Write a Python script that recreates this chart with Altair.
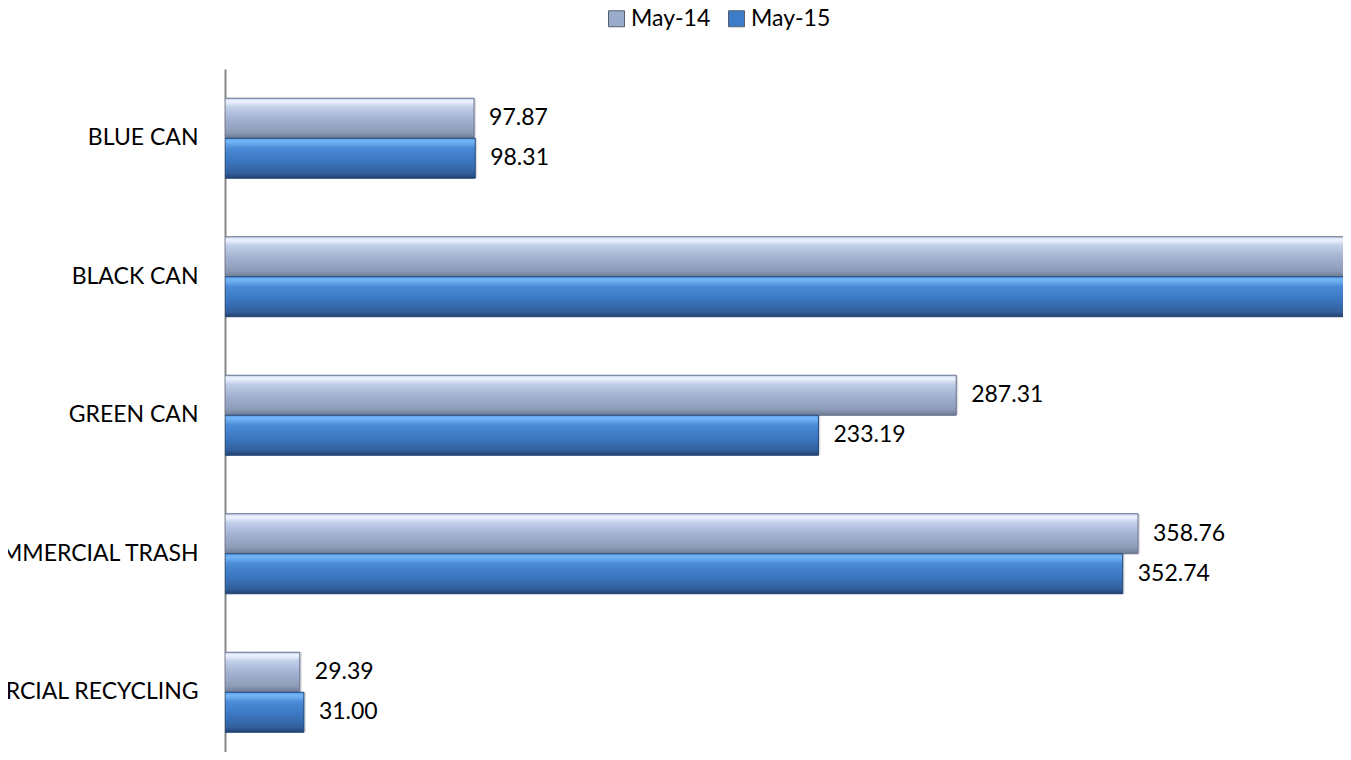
import altair as alt
import pandas as pd

categories = ["BLUE CAN", "BLACK CAN", "GREEN CAN", "COMMERCIAL TRASH", "COMMERCIAL RECYCLING"]
series = ["May-14", "May-15"]
may14 = [97.87, 1250.00, 287.31, 358.76, 29.39]   # BLACK CAN runs off the chart; value estimated
may15 = [98.31, 1230.00, 233.19, 352.74, 31.00]

rows = []
for c, a, b in zip(categories, may14, may15):
    rows.append({"category": c, "series": series[0], "value": a})
    rows.append({"category": c, "series": series[1], "value": b})
df = pd.DataFrame(rows)

FONT = "Lato"
FS = 23

grad14 = alt.Gradient(
    gradient="linear", x1=0, x2=0, y1=0, y2=1,
    stops=[
        alt.GradientStop(color="#c9d6ee", offset=0),
        alt.GradientStop(color="#eef4ff", offset=0.08),
        alt.GradientStop(color="#c2cfe9", offset=0.22),
        alt.GradientStop(color="#a3b3d2", offset=0.5),
        alt.GradientStop(color="#8d9bb8", offset=0.85),
        alt.GradientStop(color="#6e7a92", offset=1),
    ],
)
grad15 = alt.Gradient(
    gradient="linear", x1=0, x2=0, y1=0, y2=1,
    stops=[
        alt.GradientStop(color="#5d9fe8", offset=0),
        alt.GradientStop(color="#74b6f7", offset=0.08),
        alt.GradientStop(color="#4a8ad6", offset=0.25),
        alt.GradientStop(color="#3c78c2", offset=0.55),
        alt.GradientStop(color="#325f9c", offset=0.88),
        alt.GradientStop(color="#243f6a", offset=1),
    ],
)

y_enc = alt.Y(
    "category:N",
    sort=categories,
    scale=alt.Scale(domain=categories, range=[0, 692.5], paddingInner=0.4224, paddingOuter=0.211),
    axis=alt.Axis(
        title=None, ticks=False, labelPadding=27, labelFont=FONT, labelFontSize=FS,
        labelColor="#000000", labelLimit=0, domainColor="#868686", domainWidth=2,
    ),
)
yoff = alt.YOffset("series:N", scale=alt.Scale(domain=series, paddingInner=0, paddingOuter=0))
x_enc = alt.X("value:Q", scale=alt.Scale(domain=[0, 439.3], nice=False, zero=True), axis=None)

base = alt.Chart(df).encode(y=y_enc, yOffset=yoff, x=x_enc)

legend_layer = base.mark_bar(clip=True).encode(
    color=alt.Color(
        "series:N",
        scale=alt.Scale(domain=series, range=["#9aabcb", "#3d7cc9"]),
        legend=alt.Legend(
            orient="none", legendX=380, legendY=-62, direction="horizontal", title=None,
            symbolType="square", symbolSize=256, labelFont=FONT, labelFontSize=FS,
            labelColor="#000000", columnPadding=14, labelOffset=3,
            symbolStrokeColor="#55606f", symbolStrokeWidth=1,
        ),
    )
)

shadow = base.mark_bar(clip=True, color="#000000", opacity=0.13, xOffset=2, yOffset=4)

bar14 = base.transform_filter(alt.datum.series == series[0]).mark_bar(
    clip=True, fill=grad14, stroke="#6a7590", strokeWidth=1
)
bar15 = base.transform_filter(alt.datum.series == series[1]).mark_bar(
    clip=True, fill=grad15, stroke="#254a7c", strokeWidth=1
)

labels = base.mark_text(
    clip=True, align="left", baseline="middle", dx=15, font=FONT, fontSize=FS, color="#000000"
).encode(text=alt.Text("value:Q", format=".2f"))

chart = (
    alt.layer(legend_layer, shadow, bar14, bar15, labels)
    .properties(
        width=1118, height=683,
        autosize=alt.AutoSizeParams(type="none"),
        padding={"left": 217, "top": 61, "right": 0, "bottom": 0},
        background="#ffffff",
    )
    .configure_view(stroke=None)
)

chart.save("out.html", embed_options={"renderer": "svg", "actions": False})
